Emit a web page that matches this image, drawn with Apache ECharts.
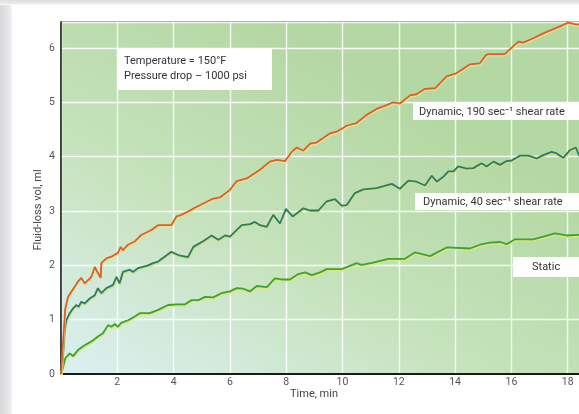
<!DOCTYPE html>
<html>
<head>
<meta charset="utf-8">
<script src="https://cdn.jsdelivr.net/npm/echarts@6/dist/echarts.min.js"></script>
<style>
  html, body { margin: 0; padding: 0; background: #ffffff; }
  #wrap { position: relative; width: 579px; height: 414px; overflow: hidden; background: #ffffff; }
  #edgeLeft { position: absolute; left: 0; top: 0; width: 12px; height: 414px;
    background: linear-gradient(90deg, #d9d9db 0%, #e4e4e6 60%, #f2f2f3 100%); }
  #edgeTop { position: absolute; left: 0; top: 0; width: 579px; height: 5px;
    background: linear-gradient(180deg, #dcdcde 0%, #ececee 70%, #ffffff 100%); }
  #chart { position: absolute; left: 0; top: 0; width: 579px; height: 414px; }
</style>
</head>
<body>
<div id="wrap">
  <div id="edgeLeft"></div>
  <div id="edgeTop"></div>
  <div id="chart"></div>
</div>
<script>
// Fluid-loss volume (ml) against time (min) for three test conditions
const xTicks = [0, 2, 4, 6, 8, 10, 12, 14, 16, 18, 20];
const yTicks = [0, 1, 2, 3, 4, 5, 6];

// Dynamic, 190 sec^-1 shear rate
const t190 = [0, 0.15, 0.25, 0.49, 0.6, 0.72, 0.84, 0.96, 1.08, 1.2, 1.31, 1.41, 1.43, 1.61, 1.79, 2.02, 2.12, 2.2, 2.38, 2.62, 2.74, 2.85, 3.21, 3.45, 3.92, 4.1, 4.23, 4.51, 4.82, 5.41, 5.65, 6.0, 6.24, 6.6, 7.07, 7.42, 7.66, 7.96, 8.2, 8.37, 8.61, 8.85, 9.08, 9.56, 9.79, 10.15, 10.5, 10.86, 11.21, 11.57, 11.8, 12.04, 12.4, 12.63, 12.93, 13.29, 13.7, 14.06, 14.53, 14.88, 15.1, 15.18, 15.77, 15.95, 16.25, 16.42, 16.78, 17.13, 17.73, 18.02, 18.32, 18.6];
const v190 = [0, 1.2, 1.42, 1.61, 1.70, 1.77, 1.67, 1.73, 1.79, 1.97, 1.86, 1.77, 2.04, 2.13, 2.16, 2.23, 2.34, 2.28, 2.38, 2.44, 2.5, 2.56, 2.65, 2.74, 2.74, 2.9, 2.92, 2.99, 3.08, 3.23, 3.25, 3.39, 3.55, 3.6, 3.76, 3.91, 3.94, 3.92, 4.09, 4.17, 4.11, 4.24, 4.26, 4.43, 4.46, 4.57, 4.62, 4.77, 4.88, 4.95, 5.0, 4.98, 5.13, 5.15, 5.25, 5.26, 5.48, 5.54, 5.7, 5.72, 5.87, 5.89, 5.89, 5.98, 6.12, 6.1, 6.18, 6.27, 6.4, 6.47, 6.43, 6.45];

// Dynamic, 40 sec^-1 shear rate
const t40 = [0, 0.06, 0.13, 0.19, 0.31, 0.43, 0.54, 0.63, 0.72, 0.84, 1.02, 1.2, 1.31, 1.43, 1.61, 1.85, 1.97, 2.08, 2.2, 2.44, 2.56, 2.74, 3.09, 3.27, 3.45, 3.68, 3.92, 4.16, 4.51, 4.7, 5.06, 5.35, 5.59, 5.83, 6.0, 6.18, 6.42, 6.71, 6.89, 7.07, 7.31, 7.54, 7.78, 7.99, 8.23, 8.61, 8.85, 9.14, 9.44, 9.73, 9.97, 10.15, 10.44, 10.74, 11.21, 11.75, 12.04, 12.34, 12.63, 12.93, 13.17, 13.35, 13.58, 13.76, 13.94, 14.11, 14.41, 14.65, 14.94, 15.12, 15.36, 15.6, 15.83, 16.01, 16.31, 16.6, 16.9, 17.13, 17.43, 17.61, 17.84, 18.08, 18.29, 18.4, 18.6];
const v40 = [0, 0.26, 0.81, 0.99, 1.12, 1.21, 1.27, 1.24, 1.33, 1.3, 1.39, 1.45, 1.58, 1.49, 1.58, 1.64, 1.79, 1.67, 1.88, 1.92, 1.88, 1.95, 2.0, 2.04, 2.07, 2.16, 2.25, 2.19, 2.15, 2.34, 2.45, 2.55, 2.47, 2.55, 2.53, 2.62, 2.74, 2.76, 2.8, 2.74, 2.71, 2.93, 2.77, 3.04, 2.9, 3.05, 3.01, 3.01, 3.18, 3.22, 3.1, 3.11, 3.33, 3.4, 3.42, 3.5, 3.41, 3.56, 3.54, 3.47, 3.65, 3.54, 3.63, 3.73, 3.73, 3.82, 3.78, 3.79, 3.88, 3.82, 3.91, 3.85, 3.92, 3.93, 4.02, 4.02, 3.97, 4.03, 4.09, 4.06, 3.98, 4.12, 4.17, 4.03, 4.05];

// Static
const tStatic = [0, 0.04, 0.15, 0.31, 0.43, 0.6, 0.84, 1.08, 1.31, 1.49, 1.67, 1.79, 1.91, 2.02, 2.14, 2.38, 2.62, 2.8, 2.85, 3.15, 3.45, 3.8, 4.1, 4.39, 4.64, 4.88, 5.12, 5.41, 5.71, 6.0, 6.24, 6.48, 6.71, 6.95, 7.31, 7.6, 7.84, 8.13, 8.43, 8.67, 8.91, 9.2, 9.44, 9.97, 10.5, 10.68, 11.09, 11.63, 12.22, 12.58, 13.11, 13.7, 14.53, 14.88, 15.24, 15.6, 15.83, 16.13, 16.78, 17.55, 17.96, 18.4, 18.6];
const vStatic = [0, 0.07, 0.29, 0.38, 0.33, 0.44, 0.53, 0.6, 0.69, 0.75, 0.9, 0.87, 0.92, 0.87, 0.94, 0.99, 1.06, 1.12, 1.09, 1.12, 1.18, 1.27, 1.28, 1.28, 1.36, 1.36, 1.42, 1.41, 1.49, 1.52, 1.58, 1.57, 1.52, 1.62, 1.6, 1.76, 1.74, 1.74, 1.84, 1.87, 1.82, 1.87, 1.93, 1.93, 2.04, 2.01, 2.05, 2.12, 2.12, 2.24, 2.17, 2.33, 2.31, 2.38, 2.42, 2.43, 2.39, 2.48, 2.48, 2.59, 2.55, 2.56, 2.56];

const labels = {
  conditions: ['Temperature = 150°F', 'Pressure drop – 1000 psi'],
  dyn190: 'Dynamic, 190 sec⁻¹ shear rate',
  dyn40: 'Dynamic, 40 sec⁻¹ shear rate',
  stat: 'Static',
  xName: 'Time, min',
  yName: 'Fluid-loss vol, ml'
};

const FONT = 'Roboto, "Liberation Sans", sans-serif';
const pairs = (ts, vs) => ts.map((t, i) => [t, vs[i]]);

function lineSeries(name, ts, vs, color, glow) {
  return {
    name: name,
    type: 'line',
    data: pairs(ts, vs),
    symbol: 'none',
    smooth: false,
    clip: true,
    z: 3,
    lineStyle: {
      color: color,
      width: 1.8,
      shadowColor: glow,
      shadowBlur: 0,
      shadowOffsetY: 1.4,
      shadowOffsetX: 0.4
    }
  };
}

// white note box with its caption, kept above grid lines and curves
function box(x, y, w, h, lines, tx, ty) {
  return {
    type: 'group',
    children: [
      { type: 'rect', z: 100, shape: { x: x, y: y, width: w, height: h },
        style: { fill: '#ffffff' } },
      { type: 'text', z: 101, x: tx, y: ty,
        style: { text: lines, font: '11px ' + FONT, fill: '#333333',
                 lineHeight: 15, verticalAlign: 'middle' } }
    ]
  };
}

const chart = echarts.init(document.getElementById('chart'), null, { renderer: 'canvas' });

chart.setOption({
  animation: false,
  backgroundColor: 'transparent',
  textStyle: { fontFamily: FONT },
  grid: {
    left: 61, top: 22, width: 563, height: 352,
    outerBoundsMode: 'none',
    containLabel: false,
    show: true,
    borderColor: '#24402a',
    borderWidth: 1,
    backgroundColor: {
      type: 'linear', x: 0.35, y: 0, x2: 0, y2: 1,
      colorStops: [
        { offset: 0, color: '#b4d8a3' },
        { offset: 0.5, color: '#c6e3bd' },
        { offset: 1, color: '#dcf0f2' }
      ]
    }
  },
  xAxis: {
    type: 'value',
    min: xTicks[0],
    max: xTicks[xTicks.length - 1],
    interval: 2,
    axisLine: { show: true, lineStyle: { color: '#1a1a1a', width: 2 } },
    axisTick: { show: false },
    axisLabel: {
      color: '#555555', fontSize: 10.5, margin: 3, fontFamily: FONT,
      formatter: v => (xTicks.indexOf(v) > 0 && v < 20 ? String(v) : '')
    },
    splitLine: { show: true, lineStyle: { color: 'rgba(255,255,255,0.9)', width: 1.4 } }
  },
  yAxis: {
    type: 'value',
    min: yTicks[0],
    max: 6.48,
    interval: 1,
    axisLine: { show: true, lineStyle: { color: '#1a1a1a', width: 1.5 } },
    axisTick: { show: false },
    axisLabel: {
      color: '#555555', fontSize: 10.5, margin: 6, fontFamily: FONT,
      formatter: v => (yTicks.indexOf(v) >= 0 ? String(v) : '')
    },
    splitLine: { show: true, lineStyle: { color: 'rgba(255,255,255,0.9)', width: 1.4 } }
  },
  series: [
    lineSeries('static', tStatic, vStatic, '#3e9f3b', '#d9ea72'),
    lineSeries('dyn40', t40, v40, '#2e7b62', '#c9e08a'),
    lineSeries('dyn190', t190, v190, '#d2632c', '#f6dc8c')
  ],
  graphic: [
    box(117, 48, 155, 42, labels.conditions.join('\n'), 124, 69),
    box(413, 103, 175, 17, labels.dyn190, 419, 112),
    box(415, 193, 175, 17, labels.dyn40, 423, 202),
    box(513, 257, 75, 20, labels.stat, 532, 267.5),
    { type: 'text', x: 290, y: 394, z: 100,
      style: { text: labels.xName, font: '11px ' + FONT, fill: '#444444',
               verticalAlign: 'middle' } },
    { type: 'text', x: 38, y: 210, rotation: Math.PI / 2, z: 100,
      style: { text: labels.yName, font: '11px ' + FONT, fill: '#444444',
               align: 'center', verticalAlign: 'middle' } }
  ]
});
</script>
</body>
</html>
